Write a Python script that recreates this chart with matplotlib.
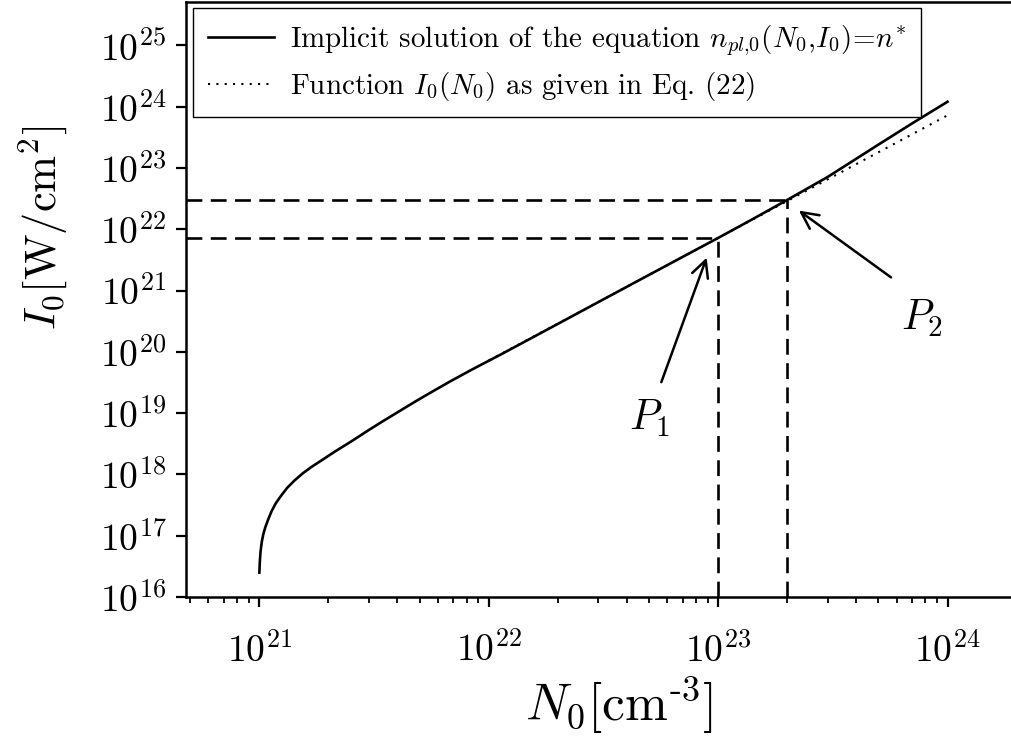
import matplotlib

matplotlib.use("Agg")
import matplotlib.pyplot as plt
from matplotlib.ticker import LogLocator, LogFormatterSciNotation, NullFormatter, NullLocator

# values
n0_solid = [1.0e21, 1.005e21, 1.012e21, 1.025e21, 1.04e21, 1.06e21, 1.09e21, 1.13e21,
            1.18e21, 1.25e21, 1.32e21, 1.42e21, 1.55e21, 1.7e21, 1.87e21, 2.15e21,
            2.5e21, 3.0e21, 3.46e21, 4.2e21, 4.86e21, 5.8e21, 6.8e21, 8.5e21,
            1.12e22, 1.5e22, 2.0e22, 3.0e22, 5.0e22, 7.0e22, 1.0e23, 1.4e23,
            2.0e23, 3.0e23, 5.0e23, 7.0e23, 1.0e24]
i0_solid = [2.5e16, 3.8e16, 5.5e16, 8.0e16, 1.05e17, 1.35e17, 1.8e17, 2.5e17,
            3.4e17, 4.6e17, 6.0e17, 7.9e17, 1.05e18, 1.35e18, 1.7e18, 2.4e18,
            3.4e18, 5.3e18, 7.4e18, 1.15e19, 1.6e19, 2.35e19, 3.3e19, 5.2e19,
            8.9e19, 1.6e20, 2.85e20, 6.45e20, 1.8e21, 3.53e21, 7.2e21, 1.43e22,
            3.0e22, 7.1e22, 2.4e23, 5.3e23, 1.2e24]

n0_eq22 = [1.0e22, 1.0e23, 1.0e24]
i0_eq22 = [7.2e19, 7.2e21, 7.2e23]

p_n0 = [1.0e23, 2.0e23]
p_i0 = [7.2e21, 3.0e22]

plt.rcParams["font.family"] = "cmr10"
plt.rcParams["mathtext.fontset"] = "cm"
plt.rcParams["axes.unicode_minus"] = False
plt.rcParams["axes.formatter.use_mathtext"] = True

fig = plt.figure(figsize=(10.11, 7.46), dpi=100)
ax = fig.add_axes([0.184, 0.1997, 0.818, 0.7976])

xlim = (4.79e20, 1.93e24)
ylim = (1.0e16, 5.08e25)

ax.plot(n0_solid, i0_solid, color="black", lw=1.9,
        label=r"Implicit solution of the equation $n_{pl{,}0}(N_0{,}I_0)\!=\!n^{*}$")
ax.plot(n0_eq22, i0_eq22, color="black", lw=1.5, linestyle=(0, (1, 3)),
        label=r"Function $I_0(N_0)$ as given in Eq. (22)")

for n, i in zip(p_n0, p_i0):
    ax.plot([xlim[0], n], [i, i], color="black", lw=1.9, dashes=(6, 3.2))
    ax.plot([n, n], [ylim[0], i], color="black", lw=1.9, dashes=(6, 3.2))

arrow = dict(arrowstyle="->", color="black", lw=1.8, mutation_scale=30)
ax.annotate("", xy=(9.0e22, 3.8e21), xytext=(5.6e22, 2.9e19), arrowprops=arrow)
ax.annotate("", xy=(2.2e23, 2.14e22), xytext=(5.8e23, 1.54e21), arrowprops=arrow)
ax.text(5.0e22, 8.3e18, r"$P_1$", fontsize=30, ha="center", va="center")
ax.text(7.7e23, 3.5e20, r"$P_2$", fontsize=30, ha="center", va="center")

ax.set_xscale("log")
ax.set_yscale("log")
ax.set_xlim(*xlim)
ax.set_ylim(*ylim)

ax.xaxis.set_major_locator(LogLocator(base=10, numticks=20))
ax.xaxis.set_minor_locator(LogLocator(base=10, subs=range(2, 10), numticks=20))
ax.xaxis.set_minor_formatter(NullFormatter())
ax.xaxis.set_major_formatter(LogFormatterSciNotation())
ax.yaxis.set_major_locator(LogLocator(base=10, numticks=20))
ax.yaxis.set_minor_locator(NullLocator())
ax.yaxis.set_major_formatter(LogFormatterSciNotation())

ax.tick_params(axis="both", which="major", direction="out", length=7, width=1.6,
               labelsize=27, color="black")
ax.tick_params(axis="x", which="major", pad=18)
ax.tick_params(axis="y", which="major", pad=7)
ax.tick_params(axis="x", which="minor", direction="out", length=4.5, width=1.3)
for side in ["top", "right", "bottom", "left"]:
    ax.spines[side].set_linewidth(1.8)
ax.spines["right"].set_visible(False)

ax.set_xlabel(r"$N_0$[cm$^{\text{-}3}$]", fontsize=37)
ax.set_ylabel(r"$I_0$[W/cm$^{2}$]", fontsize=32)
ax.xaxis.set_label_coords(0.524, -0.13)
ax.yaxis.set_label_coords(-0.14, 0.62)

leg = ax.legend(loc="upper left", bbox_to_anchor=(0.0085, 0.99), borderaxespad=0,
                fontsize=20.9, frameon=True, fancybox=False, framealpha=1,
                edgecolor="black", handlelength=2.3, handletextpad=0.55,
                borderpad=0.5, labelspacing=0.4)
leg.get_frame().set_linewidth(1.0)

fig.savefig("out.png", dpi=100)
